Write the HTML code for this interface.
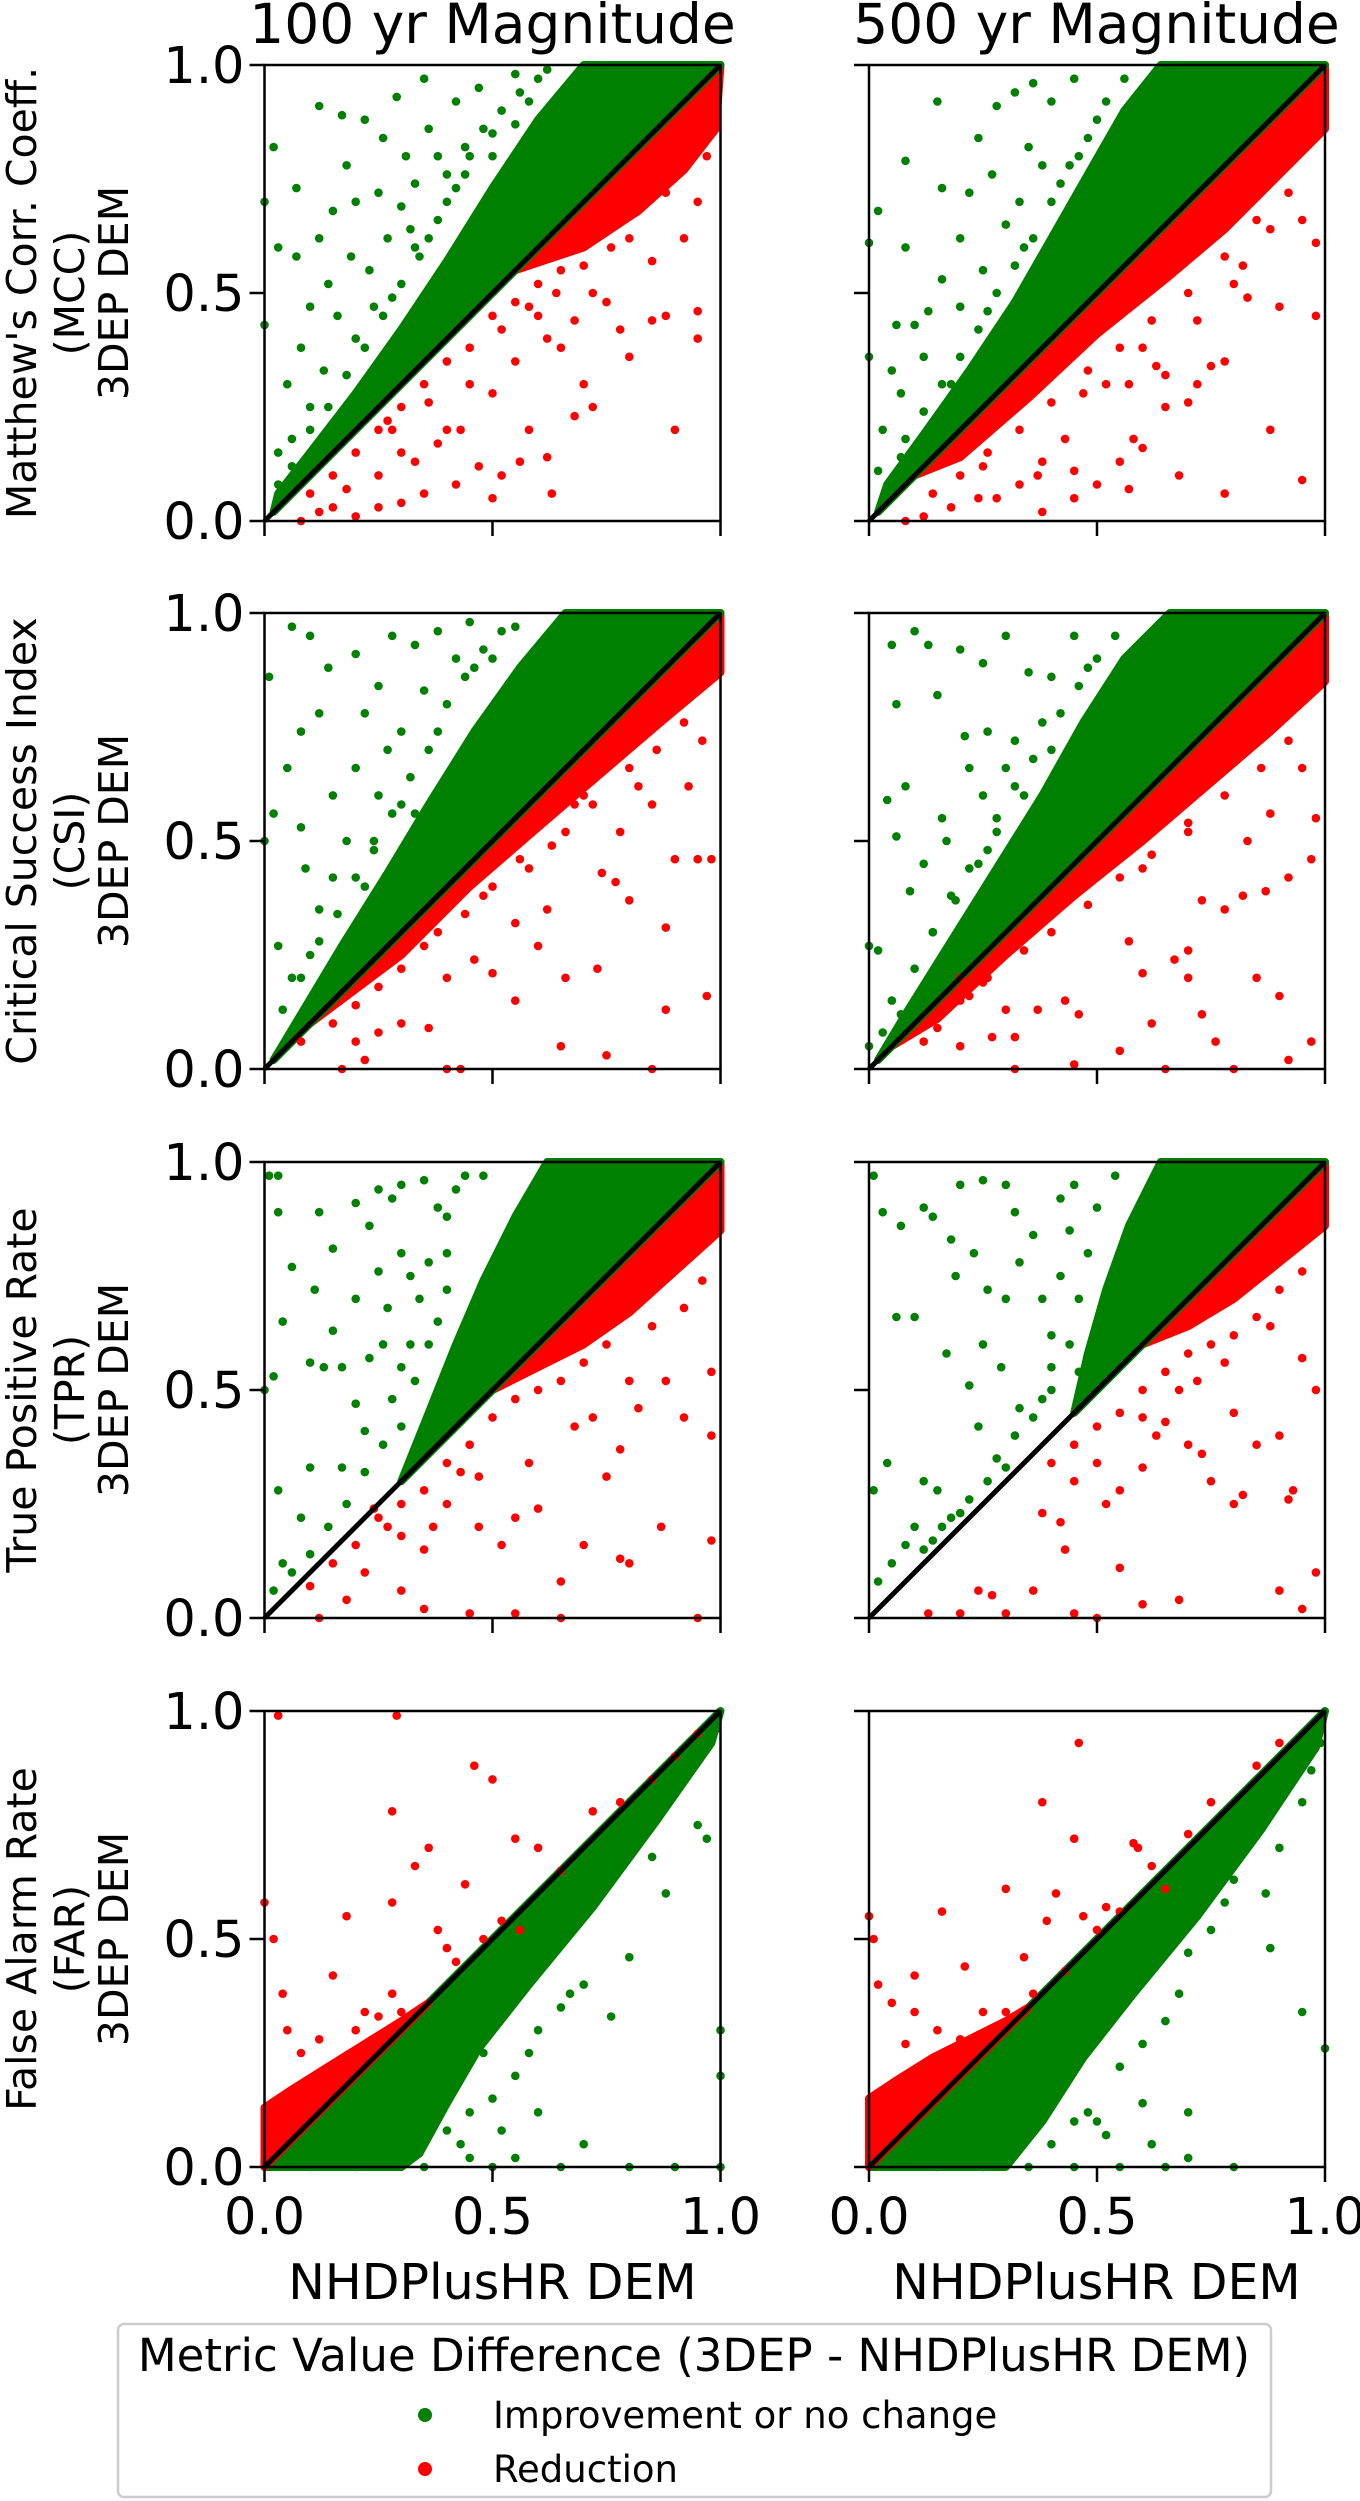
<!DOCTYPE html>
<html><head><meta charset="utf-8">
<style>
html,body{margin:0;padding:0;background:#fff;}
svg{display:block;font-family:"DejaVu Sans","Liberation Sans",sans-serif;}
</style></head>
<body>
<svg id="fig" width="1360" height="2501" viewBox="0 0 1360 2501" xmlns="http://www.w3.org/2000/svg">
<g id="panels"></g>
<text x="492.5" y="43" font-size="55" text-anchor="middle">100 yr Magnitude</text>
<text x="1096.5" y="43" font-size="55" text-anchor="middle">500 yr Magnitude</text>
<text x="492.5" y="2299" font-size="49" text-anchor="middle">NHDPlusHR DEM</text>
<text x="1096.5" y="2299" font-size="49" text-anchor="middle">NHDPlusHR DEM</text>
<g>
<rect x="118" y="2324" width="1153" height="173" rx="6" fill="#fff" stroke="#cccccc" stroke-width="2.5"/>
<text x="694" y="2371" font-size="45" text-anchor="middle">Metric Value Difference (3DEP - NHDPlusHR DEM)</text>
<circle cx="425" cy="2415" r="7" fill="#008000"/>
<text x="493" y="2428" font-size="37">Improvement or no change</text>
<circle cx="425" cy="2469" r="7" fill="#ff0000"/>
<text x="493" y="2482" font-size="37">Reduction</text>
</g>
</svg>
<script>
const metricNames = ["MCC","CSI","TPR","FAR"];
const yLabelLines = [["Matthew's Corr. Coeff.","(MCC)","3DEP DEM"],["Critical Success Index","(CSI)","3DEP DEM"],["True Positive Rate","(TPR)","3DEP DEM"],["False Alarm Rate","(FAR)","3DEP DEM"]];
const tickValues = [0, 0.5, 1];
const tickLabels = ["0.0","0.5","1.0"];
// dense regions (data coords, flat x,y)
const denseGreen = [
 [0.02,0.02, 1,1, 0.7,1, 0.6,0.88, 0.5,0.73, 0.4,0.57, 0.3,0.42, 0.2,0.28, 0.1,0.15, 0.03,0.06],
 [0.02,0.02, 1,1, 0.64,1, 0.56,0.9, 0.48,0.76, 0.4,0.62, 0.32,0.48, 0.22,0.33, 0.12,0.19, 0.04,0.08],
 [0.02,0.02, 1,1, 0.66,1, 0.56,0.88, 0.46,0.74, 0.36,0.58, 0.27,0.43, 0.17,0.27, 0.08,0.12],
 [0.02,0.02, 1,1, 0.66,1, 0.56,0.9, 0.47,0.76, 0.38,0.6, 0.28,0.44, 0.18,0.28, 0.08,0.12],
 [0.3,0.3, 1,1, 0.62,1, 0.55,0.88, 0.48,0.74, 0.42,0.6, 0.36,0.45],
 [0.45,0.45, 1,1, 0.64,1, 0.57,0.86, 0.52,0.72, 0.48,0.58],
 [0,0, 1,1, 0.98,0.93, 0.86,0.76, 0.72,0.57, 0.58,0.4, 0.47,0.26, 0.4,0.14, 0.34,0.03, 0.3,0],
 [0,0, 1,1, 0.98,0.92, 0.86,0.74, 0.72,0.55, 0.58,0.38, 0.47,0.24, 0.38,0.1, 0.3,0]
];
const denseRed = [
 [0.55,0.55, 1,1, 0.99,0.86, 0.92,0.77, 0.82,0.68, 0.7,0.6],
 [0.1,0.1, 1,1, 1,0.86, 0.9,0.76, 0.78,0.64, 0.65,0.53, 0.5,0.41, 0.35,0.27, 0.2,0.14],
 [0.1,0.1, 1,1, 1,0.87, 0.88,0.77, 0.74,0.65, 0.6,0.53, 0.45,0.4, 0.3,0.25],
 [0.05,0.05, 1,1, 1,0.85, 0.88,0.74, 0.74,0.62, 0.6,0.5, 0.45,0.38, 0.3,0.25, 0.15,0.11],
 [0.5,0.5, 1,1, 1,0.85, 0.9,0.76, 0.8,0.67, 0.7,0.6, 0.6,0.55],
 [0.6,0.6, 1,1, 1,0.86, 0.9,0.78, 0.8,0.7, 0.7,0.64],
 [0,0, 0,0.13, 0.06,0.17, 0.14,0.22, 0.22,0.27, 0.3,0.32, 0.36,0.36],
 [0,0, 0,0.15, 0.06,0.19, 0.14,0.24, 0.22,0.28, 0.3,0.32, 0.35,0.35]
];
// scattered points (data coords, flat x,y)
const greenPts = [
 [0.02,0.82,0.03,0.6,0.07,0.58,0.12,0.91,0.17,0.89,0.22,0.88,0.18,0.78,0.26,0.84,0.29,0.93,0.35,0.97,0.07,0.73,0.15,0.68,0.2,0.7,0.27,0.62,0.1,0.47,0.14,0.52,0.23,0.55,0.3,0.69,0.38,0.8,0.42,0.92,0.47,0.95,0.33,0.74,0.05,0.3,0.08,0.38,0.16,0.45,0.2,0.4,0.24,0.47,0.03,0.15,0.1,0.25,0.13,0.33,0.33,0.6,0.4,0.7,0.5,0.85,0.55,0.98,0.03,0.08,0.06,0.18,0.0,0.43,0.0,0.7,0.25,0.72,0.36,0.86,0.44,0.82,0.31,0.8,0.12,0.62,0.19,0.58,
  0.45,0.8,0.48,0.86,0.52,0.9,0.56,0.94,0.6,0.97,0.42,0.73,0.38,0.66,0.34,0.58,0.3,0.52,0.26,0.45,0.22,0.38,0.18,0.32,0.14,0.25,0.1,0.2,0.06,0.12,0.5,0.8,0.55,0.87,0.58,0.92,0.36,0.62,0.28,0.49,0.44,0.76,0.62,0.99,0.4,0.76,0.32,0.64],
 [0.02,0.68,0.08,0.79,0.15,0.92,0.16,0.73,0.2,0.62,0.24,0.84,0.28,0.91,0.32,0.94,0.36,0.96,0.08,0.6,0.16,0.53,0.2,0.47,0.25,0.55,0.12,0.36,0.07,0.28,0.03,0.2,0.05,0.33,0.02,0.11,0.27,0.76,0.3,0.65,0.4,0.92,0.45,0.97,0.22,0.72,0.35,0.82,0.1,0.43,0.18,0.3,0.13,0.46,0.06,0.43,0.0,0.36,0.0,0.61,0.33,0.7,0.38,0.78,0.14,0.17,0.07,0.14,
  0.4,0.7,0.44,0.78,0.48,0.84,0.52,0.92,0.56,0.97,0.36,0.62,0.32,0.56,0.28,0.5,0.24,0.42,0.2,0.36,0.16,0.3,0.12,0.24,0.08,0.18,0.46,0.8,0.5,0.88,0.42,0.74,0.34,0.6,0.26,0.46],
 [0.01,0.86,0.06,0.97,0.02,0.56,0.05,0.66,0.08,0.74,0.1,0.95,0.12,0.78,0.14,0.88,0.2,0.91,0.25,0.84,0.28,0.95,0.3,0.74,0.33,0.93,0.38,0.96,0.08,0.53,0.15,0.6,0.2,0.66,0.25,0.6,0.09,0.44,0.03,0.27,0.06,0.2,0.04,0.13,0.12,0.35,0.15,0.42,0.22,0.78,0.35,0.83,0.42,0.9,0.45,0.98,0.27,0.7,0.33,0.56,0.18,0.5,0.0,0.5,0.24,0.48,0.1,0.25,
  0.4,0.8,0.44,0.86,0.48,0.92,0.52,0.96,0.36,0.7,0.32,0.64,0.28,0.56,0.24,0.5,0.2,0.42,0.16,0.34,0.12,0.28,0.08,0.2,0.38,0.74,0.46,0.88,0.3,0.58,0.22,0.4,0.5,0.9,0.55,0.97],
 [0.05,0.93,0.06,0.8,0.1,0.96,0.13,0.93,0.15,0.82,0.2,0.92,0.25,0.89,0.3,0.95,0.35,0.87,0.26,0.74,0.21,0.73,0.22,0.66,0.08,0.62,0.04,0.59,0.06,0.51,0.16,0.55,0.17,0.5,0.25,0.6,0.3,0.66,0.32,0.72,0.12,0.45,0.09,0.39,0.0,0.27,0.02,0.26,0.05,0.15,0.07,0.12,0.14,0.3,0.19,0.37,0.24,0.45,0.4,0.86,0.45,0.95,0.38,0.76,0.28,0.52,0.03,0.08,0.0,0.05,
  0.42,0.78,0.46,0.84,0.5,0.9,0.54,0.95,0.36,0.68,0.32,0.62,0.28,0.55,0.22,0.44,0.18,0.38,0.14,0.3,0.1,0.22,0.4,0.7,0.48,0.88,0.34,0.6,0.26,0.48],
 [0.01,0.97,0.03,0.97,0.03,0.89,0.12,0.89,0.2,0.91,0.25,0.94,0.3,0.95,0.35,0.96,0.15,0.81,0.23,0.86,0.28,0.92,0.25,0.76,0.06,0.77,0.11,0.72,0.04,0.65,0.1,0.56,0.15,0.63,0.2,0.7,0.27,0.68,0.23,0.57,0.32,0.75,0.13,0.55,0.0,0.5,0.02,0.53,0.2,0.47,0.22,0.41,0.1,0.33,0.17,0.33,0.03,0.28,0.08,0.22,0.04,0.12,0.02,0.06,0.36,0.6,0.4,0.8,0.38,0.9,0.44,0.97,0.17,0.55,
  0.3,0.55,0.32,0.6,0.34,0.7,0.36,0.78,0.4,0.88,0.42,0.94,0.48,0.97,0.3,0.42,0.26,0.38,0.22,0.32,0.18,0.25,0.14,0.2,0.1,0.14,0.06,0.1,0.28,0.48,0.33,0.52,0.38,0.65,0.4,0.72,0.26,0.6,0.3,0.8],
 [0.01,0.97,0.03,0.89,0.07,0.86,0.12,0.9,0.14,0.88,0.18,0.83,0.2,0.95,0.25,0.96,0.3,0.95,0.32,0.89,0.23,0.8,0.19,0.75,0.26,0.72,0.33,0.78,0.36,0.84,0.06,0.66,0.1,0.66,0.17,0.58,0.25,0.6,0.3,0.7,0.29,0.55,0.22,0.51,0.33,0.46,0.04,0.34,0.01,0.28,0.12,0.3,0.15,0.28,0.18,0.22,0.1,0.2,0.08,0.16,0.05,0.12,0.02,0.08,0.24,0.42,0.4,0.55,0.38,0.7,0.42,0.92,
  0.44,0.6,0.46,0.7,0.48,0.8,0.5,0.9,0.54,0.97,0.4,0.62,0.42,0.75,0.44,0.85,0.38,0.48,0.36,0.44,0.32,0.4,0.28,0.35,0.3,0.33,0.26,0.3,0.22,0.26,0.2,0.23,0.16,0.2,0.14,0.17,0.12,0.15,0.45,0.95,0.4,0.5,0.46,0.54],
 [0.1,0.0,0.2,0.0,0.3,0.05,0.35,0.0,0.45,0.02,0.5,0.0,0.55,0.02,0.65,0.0,0.7,0.05,0.8,0.0,0.9,0.0,1.0,0.0,1.0,0.2,1.0,0.3,0.6,0.12,0.55,0.2,0.5,0.15,0.45,0.12,0.4,0.08,0.48,0.25,0.6,0.3,0.65,0.35,0.67,0.38,0.7,0.4,0.76,0.33,0.8,0.46,0.85,0.68,0.95,0.75,0.97,0.72,0.88,0.6,0.9,0.84,0.95,0.93,0.99,0.96,0.58,0.25,0.52,0.08,0.43,0.05],
 [0.15,0.0,0.25,0.0,0.35,0.0,0.45,0.0,0.55,0.0,0.65,0.0,0.8,0.0,0.7,0.02,0.62,0.05,0.52,0.07,0.5,0.1,0.48,0.12,0.6,0.14,0.7,0.12,0.95,0.34,1.0,0.26,0.88,0.48,0.87,0.6,0.9,0.7,0.95,0.8,0.97,0.87,0.99,0.93,0.7,0.47,0.75,0.52,0.78,0.58,0.8,0.63,0.65,0.32,0.68,0.38,0.6,0.27,0.55,0.22,0.45,0.1,0.4,0.05,0.57,0.39,0.72,0.6]
];
const redPts = [
 [0.9,0.2,0.95,0.4,0.8,0.36,0.88,0.45,0.72,0.25,0.68,0.23,0.65,0.38,0.6,0.45,0.55,0.35,0.45,0.3,0.5,0.28,0.62,0.14,0.47,0.12,0.52,0.1,0.42,0.08,0.35,0.06,0.3,0.04,0.25,0.03,0.2,0.01,0.15,0.03,0.18,0.07,0.25,0.1,0.33,0.13,0.38,0.17,0.4,0.2,0.5,0.05,0.56,0.13,0.63,0.06,0.7,0.3,0.75,0.48,0.85,0.57,0.92,0.62,0.95,0.7,0.97,0.8,0.8,0.62,0.72,0.5,0.58,0.2,0.12,0.02,0.08,0.0,0.43,0.2,0.3,0.15,0.27,0.22,0.95,0.46,0.85,0.44,0.78,0.42,
  0.5,0.45,0.55,0.48,0.6,0.52,0.65,0.55,0.4,0.35,0.35,0.3,0.3,0.25,0.25,0.2,0.2,0.15,0.15,0.1,0.1,0.06,0.45,0.38,0.52,0.42,0.58,0.47,0.64,0.5,0.7,0.56,0.76,0.6,0.88,0.72,0.92,0.78,0.96,0.86,0.68,0.44,0.62,0.4,0.36,0.26,0.28,0.2],
 [0.98,0.61,0.98,0.45,0.88,0.64,0.9,0.47,0.83,0.49,0.75,0.34,0.72,0.3,0.78,0.35,0.63,0.34,0.57,0.3,0.52,0.3,0.47,0.28,0.6,0.16,0.55,0.13,0.65,0.25,0.68,0.1,0.78,0.06,0.45,0.11,0.43,0.18,0.38,0.13,0.33,0.08,0.28,0.05,0.24,0.05,0.18,0.03,0.12,0.01,0.08,0.0,0.37,0.1,0.25,0.12,0.45,0.05,0.5,0.08,0.57,0.07,0.65,0.32,0.72,0.44,0.82,0.56,0.7,0.26,0.58,0.18,0.38,0.02,0.88,0.2,0.95,0.09,
  0.92,0.72,0.85,0.66,0.78,0.58,0.7,0.5,0.62,0.44,0.55,0.38,0.48,0.33,0.4,0.26,0.33,0.2,0.26,0.15,0.2,0.1,0.14,0.06,0.95,0.66,0.8,0.52,0.6,0.38],
 [0.98,0.46,0.95,0.46,0.9,0.46,0.88,0.31,0.8,0.37,0.78,0.52,0.82,0.62,0.93,0.62,0.74,0.43,0.77,0.41,0.62,0.35,0.55,0.32,0.6,0.27,0.73,0.22,0.5,0.21,0.46,0.24,0.4,0.2,0.36,0.09,0.3,0.1,0.25,0.08,0.2,0.06,0.17,0.0,0.4,0.0,0.43,0.0,0.55,0.15,0.66,0.2,0.65,0.05,0.75,0.03,0.85,0.0,0.88,0.13,0.97,0.16,0.58,0.44,0.68,0.58,0.7,0.6,0.63,0.49,0.48,0.38,0.35,0.27,0.22,0.02,0.08,0.06,
  0.92,0.76,0.86,0.7,0.8,0.66,0.72,0.58,0.66,0.52,0.56,0.46,0.5,0.4,0.44,0.34,0.38,0.3,0.3,0.22,0.25,0.18,0.2,0.14,0.15,0.1,0.96,0.72,0.85,0.58],
 [0.98,0.55,0.97,0.46,0.92,0.42,0.87,0.39,0.82,0.38,0.78,0.35,0.73,0.37,0.7,0.26,0.67,0.24,0.57,0.28,0.6,0.21,0.7,0.2,0.73,0.12,0.76,0.06,0.85,0.2,0.9,0.16,0.92,0.02,0.97,0.06,0.62,0.1,0.55,0.04,0.46,0.12,0.43,0.15,0.37,0.13,0.3,0.13,0.32,0.07,0.27,0.07,0.25,0.19,0.2,0.2,0.22,0.16,0.2,0.05,0.15,0.09,0.12,0.06,0.32,0.0,0.45,0.01,0.65,0.0,0.8,0.0,0.6,0.44,0.83,0.5,0.7,0.52,
  0.92,0.72,0.86,0.66,0.78,0.6,0.7,0.54,0.62,0.47,0.55,0.42,0.48,0.36,0.4,0.3,0.34,0.26,0.26,0.2,0.2,0.15,0.95,0.66,0.88,0.56],
 [0.98,0.54,0.98,0.4,0.92,0.44,0.82,0.46,0.75,0.31,0.78,0.37,0.8,0.12,0.78,0.13,0.7,0.16,0.65,0.08,0.6,0.24,0.55,0.22,0.52,0.16,0.47,0.2,0.43,0.32,0.47,0.31,0.4,0.25,0.37,0.2,0.35,0.15,0.3,0.18,0.27,0.2,0.24,0.24,0.3,0.06,0.35,0.02,0.45,0.01,0.55,0.01,0.65,0.0,0.95,0.0,0.98,0.17,0.87,0.2,0.18,0.04,0.22,0.1,0.12,0.0,0.58,0.34,0.68,0.42,0.72,0.44,0.88,0.52,
  0.5,0.44,0.55,0.48,0.6,0.5,0.65,0.52,0.45,0.38,0.4,0.34,0.35,0.28,0.3,0.25,0.25,0.22,0.2,0.16,0.15,0.12,0.1,0.07,0.7,0.56,0.75,0.6,0.85,0.64,0.92,0.68,0.96,0.74,0.8,0.52],
 [0.98,0.5,0.95,0.57,0.93,0.28,0.92,0.26,0.9,0.4,0.85,0.38,0.82,0.27,0.8,0.25,0.75,0.3,0.73,0.36,0.7,0.38,0.6,0.33,0.55,0.28,0.52,0.25,0.5,0.34,0.45,0.3,0.42,0.21,0.38,0.23,0.36,0.06,0.43,0.15,0.55,0.11,0.68,0.04,0.6,0.03,0.5,0.0,0.45,0.01,0.3,0.01,0.27,0.05,0.24,0.06,0.2,0.01,0.13,0.01,0.95,0.02,0.98,0.1,0.9,0.06,0.8,0.45,0.65,0.43,0.63,0.4,
  0.6,0.5,0.65,0.54,0.7,0.58,0.55,0.45,0.5,0.42,0.45,0.38,0.4,0.34,0.75,0.6,0.8,0.62,0.85,0.66,0.9,0.72,0.95,0.76,0.72,0.52,0.78,0.56,0.88,0.64,0.6,0.44,0.68,0.5],
 [0.0,0.58,0.02,0.5,0.04,0.38,0.05,0.3,0.08,0.25,0.12,0.28,0.18,0.55,0.15,0.42,0.22,0.34,0.28,0.38,0.3,0.34,0.28,0.58,0.28,0.78,0.29,0.99,0.03,0.99,0.33,0.66,0.36,0.7,0.38,0.52,0.44,0.62,0.46,0.88,0.5,0.85,0.55,0.72,0.56,0.52,0.6,0.7,0.4,0.48,0.42,0.45,0.48,0.5,0.52,0.54,0.65,0.65,0.72,0.78,0.85,0.85,0.9,0.9,0.95,0.95,0.78,0.8,0.2,0.3,0.25,0.33],
 [0.0,0.55,0.01,0.5,0.02,0.4,0.05,0.36,0.1,0.34,0.1,0.42,0.16,0.56,0.21,0.44,0.3,0.61,0.39,0.54,0.41,0.6,0.38,0.8,0.46,0.93,0.45,0.72,0.58,0.71,0.59,0.7,0.47,0.55,0.43,0.43,0.36,0.38,0.3,0.34,0.25,0.34,0.2,0.28,0.5,0.52,0.55,0.56,0.62,0.66,0.7,0.73,0.75,0.8,0.85,0.88,0.9,0.93,0.65,0.61,0.52,0.57,0.34,0.46,0.15,0.3,0.08,0.27]
];

const NS = "http://www.w3.org/2000/svg";
const rowTops = [65, 613, 1162, 1711];
const colLefts = [264.5, 869];
const size = 456;
const panelsG = document.getElementById("panels");
function mk(tag, attrs, parent){
  const e = document.createElementNS(NS, tag);
  for (const k in attrs) e.setAttribute(k, attrs[k]);
  parent.appendChild(e);
  return e;
}
for (let r = 0; r < 4; r++) {
  for (let c = 0; c < 2; c++) {
    const idx = r*2 + c;
    const L = colLefts[c], T = rowTops[r];
    const sx = v => L + v*size;
    const sy = v => T + size - v*size;
    const g = mk("g", {}, panelsG);
    
    
    const clipId = "clip" + idx;
    const cp = mk("clipPath", {id: clipId}, g);
    mk("rect", {x: L-5, y: T-5, width: size+10, height: size+10}, cp);
    const dg = mk("g", {"clip-path": "url(#" + clipId + ")"}, g);
    
    
    const drawPoly = (arr, color, name) => {
      let pts = [];
      for (let i = 0; i < arr.length; i += 2) pts.push(sx(arr[i]).toFixed(1) + "," + sy(arr[i+1]).toFixed(1));
      const p = mk("polygon", {points: pts.join(" "), fill: color, stroke: color, "stroke-width": 8, "stroke-linejoin": "round"}, dg);
      
      
    };
    const drawPts = (arr, color, name) => {
      for (let i = 0; i < arr.length; i += 2) {
        const ci = mk("circle", {cx: sx(arr[i]).toFixed(1), cy: sy(arr[i+1]).toFixed(1), r: 4.3, fill: color}, dg);
        
        
      }
    };
    if (r === 3) {
      drawPoly(denseGreen[idx], "#008000", "dense-improvement");
      drawPoly(denseRed[idx], "#ff0000", "dense-reduction");
    } else {
      drawPoly(denseRed[idx], "#ff0000", "dense-reduction");
      drawPoly(denseGreen[idx], "#008000", "dense-improvement");
    }
    drawPts(greenPts[idx], "#008000", "point-improvement");
    drawPts(redPts[idx], "#ff0000", "point-reduction");
    const ln = mk("line", {x1: sx(0), y1: sy(0), x2: sx(1), y2: sy(1), stroke: "#000", "stroke-width": 5}, g);
    
    
    const fr = mk("rect", {x: L, y: T, width: size, height: size, fill: "none", stroke: "#000", "stroke-width": 2.5}, g);
    
    
    for (let t = 0; t < tickValues.length; t++) {
      const v = tickValues[t];
      const yt = mk("line", {x1: L-15, y1: sy(v), x2: L, y2: sy(v), stroke: "#000", "stroke-width": 2.5}, g);
      
      
      const xt = mk("line", {x1: sx(v), y1: T+size, x2: sx(v), y2: T+size+15, stroke: "#000", "stroke-width": 2.5}, g);
      
      
      if (c === 0) {
        const tl = mk("text", {x: L-20, y: sy(v)+18, "font-size": 51, "text-anchor": "end"}, g);
        tl.textContent = tickLabels[t];
        
        
      }
      if (r === 3) {
        const tl = mk("text", {x: sx(v), y: T+size+67, "font-size": 51, "text-anchor": "middle"}, g);
        tl.textContent = tickLabels[t];
        
        
      }
    }
    if (c === 0) {
      const cy = T + size/2;
      const xs = [36, 84, 128];
      for (let k = 0; k < 3; k++) {
        const yl = mk("text", {x: xs[k], y: cy, "font-size": 41, "text-anchor": "middle", transform: "rotate(-90 " + xs[k] + " " + cy + ")"}, g);
        yl.textContent = yLabelLines[r][k];
        
        
      }
    }
  }
}
</script>
</body></html>
